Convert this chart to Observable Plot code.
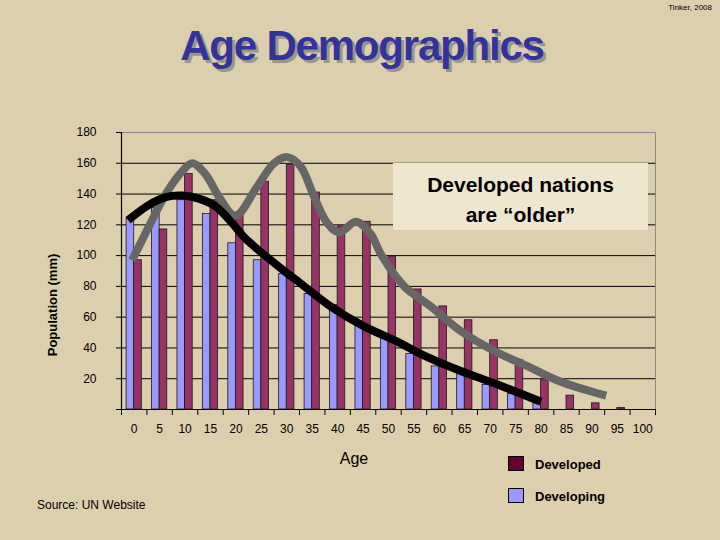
<!DOCTYPE html>
<html>
<head>
<meta charset="utf-8">
<script src="https://cdn.jsdelivr.net/npm/d3@7"></script>
<script src="https://cdn.jsdelivr.net/npm/@observablehq/plot@0.6"></script>
<style>
  html, body { margin: 0; padding: 0; }
  #wrap { position: relative; width: 720px; height: 540px; overflow: hidden;
          background: #dccfae; font-family: "Liberation Sans", Arial, sans-serif; color: #000; }
  #wrap > * { position: absolute; }
  #plot { left: 0; top: 0; }
  .title { left: 0; top: 25px; width: 724px; text-align: center; font-size: 42px; line-height: 42px;
           font-weight: bold; color: #333399; letter-spacing: -1.2px; text-shadow: 3px 3px 0 #9a968c; }
  .credit { right: 8px; top: 3px; font-size: 8px; }
  .ylabel { left: -47px; top: 297px; width: 200px; height: 16px; line-height: 16px; text-align: center;
            font-size: 13px; font-weight: bold; transform: rotate(-90deg); }
  .xlabel { left: 304px; top: 450px; width: 100px; text-align: center; font-size: 16px; line-height: 18px; }
  .note { left: 393px; top: 163px; width: 255px; height: 67px; background: #efe6cf; text-align: center;
          font-size: 21px; font-weight: bold; line-height: 30px; padding-top: 7px; box-sizing: border-box; }
  .sw { width: 14px; height: 13px; border: 1px solid #000; }
  .lg { font-size: 13px; font-weight: bold; line-height: 16px; }
  .source { left: 37px; top: 497px; font-size: 12px; line-height: 16px; }
</style>
</head>
<body>
<div id="wrap">
  <div id="plot"></div>
  <div class="title">Age Demographics</div>
  <div class="credit">Tinker, 2008</div>
  <div class="ylabel">Population (mm)</div>
  <div class="xlabel">Age</div>
  <div class="note">Developed nations<br>are “older”</div>
  <div class="sw" style="left:508px;top:456px;background:#660033"></div>
  <div class="lg" style="left:535px;top:457px">Developed</div>
  <div class="sw" style="left:508px;top:488px;background:#9999ff"></div>
  <div class="lg" style="left:535px;top:489px">Developing</div>
  <div class="source">Source: UN Website</div>
</div>
<script>
// ---- data ----
const ages = [0, 5, 10, 15, 20, 25, 30, 35, 40, 45, 50, 55, 60, 65, 70, 75, 80, 85, 90, 95, 100];
const developed = [97, 117, 153, 136, 126, 148, 159, 141, 119, 122, 99, 78, 67, 58, 45, 32, 19, 9, 4, 1, 0];
const developing = [124, 131, 136, 127, 108, 97, 88, 75, 68, 55, 46, 36, 28, 23, 16, 10, 4, 0, 0, 0, 0];
const yTicks = [0, 20, 40, 60, 80, 100, 120, 140, 160, 180];

// hand-drawn trend curves (age, population)
const developedTrendAge = [-0.4, 2.9, 6.2, 9.5, 11.4, 14.0, 16.7, 19.9, 24.2, 27.5, 30.1, 32.7, 35.4, 38.0, 40.3, 43.6, 46.5, 48.5, 53.1, 58.3, 64.2, 70.8, 77.4, 83.9, 92.8];
const developedTrendVal = [97, 119, 140, 155, 160, 153, 138, 126, 145, 160, 164, 158, 138, 121, 115, 122, 114, 101, 80, 67, 51, 38, 28, 18, 9];
const developingTrendAge = [-1.2, 2.9, 6.2, 9.5, 12.7, 16.0, 19.3, 21.6, 29.5, 32.7, 38.6, 45.2, 51.8, 56.4, 64.2, 70.8, 80.0];
const developingTrendVal = [123, 133, 138, 139, 137, 132, 121, 112, 90, 82, 67, 54, 44, 36, 25, 17, 5];

// ---- derived tables ----
const step = ages[1] - ages[0];
const half = step / 2;
const barW = 1.5;
const bars = ages.map((a, i) => ({age: a, developed: developed[i], developing: developing[i]}));
const devTrend = developedTrendAge.map((a, i) => ({age: a, v: developedTrendVal[i]}));
const dingTrend = developingTrendAge.map((a, i) => ({age: a, v: developingTrendVal[i]}));
const xMin = d3.min(ages) - half, xMax = d3.max(ages) + half;
const yMax = d3.max(yTicks);
const boundaries = ages.map(a => a - half).concat([xMax]);

const chart = Plot.plot({
  width: 720,
  height: 540,
  marginLeft: 121,
  marginRight: 65,
  marginTop: 132,
  marginBottom: 131,
  style: {background: "transparent", fontFamily: "Liberation Sans, Arial, sans-serif", fontSize: "12px", color: "#000"},
  x: {type: "linear", domain: [xMin, xMax], ticks: boundaries, tickSize: 6, tickFormat: () => "", label: null},
  y: {domain: [0, yMax], ticks: yTicks, tickSize: 5, tickPadding: 20, tickFormat: d => d === 0 ? "" : String(d), label: null},
  marks: [
    Plot.ruleY(yTicks.filter(t => t > 0 && t < yMax), {stroke: "#000", strokeWidth: 1}),
    Plot.ruleY([yMax], {stroke: "#8a8a8a", strokeWidth: 1}),
    Plot.ruleX([xMax], {stroke: "#8a8a8a", strokeWidth: 1}),
    Plot.rectY(bars.filter(d => d.developing > 0), {x1: d => d.age - barW, x2: d => d.age, y1: 0, y2: "developing",
      fill: "#9999ff", stroke: "#1a1a1a", strokeWidth: 0.8}),
    Plot.rectY(bars.filter(d => d.developed > 0), {x1: d => d.age, x2: d => d.age + barW, y1: 0, y2: "developed",
      fill: "#993366", stroke: "#1a1a1a", strokeWidth: 0.8}),
    Plot.ruleX([xMin], {stroke: "#000", strokeWidth: 1.2}),
    Plot.ruleY([0], {stroke: "#000", strokeWidth: 1.2}),
    Plot.line(devTrend, {x: "age", y: "v", curve: "catmull-rom", stroke: "#666666", strokeWidth: 8, strokeLinecap: "butt"}),
    Plot.line(dingTrend, {x: "age", y: "v", curve: "catmull-rom", stroke: "#000", strokeWidth: 8, strokeLinecap: "butt"}),
    Plot.text(ages, {x: d => d, frameAnchor: "bottom", dy: 23, text: d => String(d), fontSize: 12, fill: "#000"})
  ]
});
document.getElementById("plot").appendChild(chart);
</script>
</body>
</html>
